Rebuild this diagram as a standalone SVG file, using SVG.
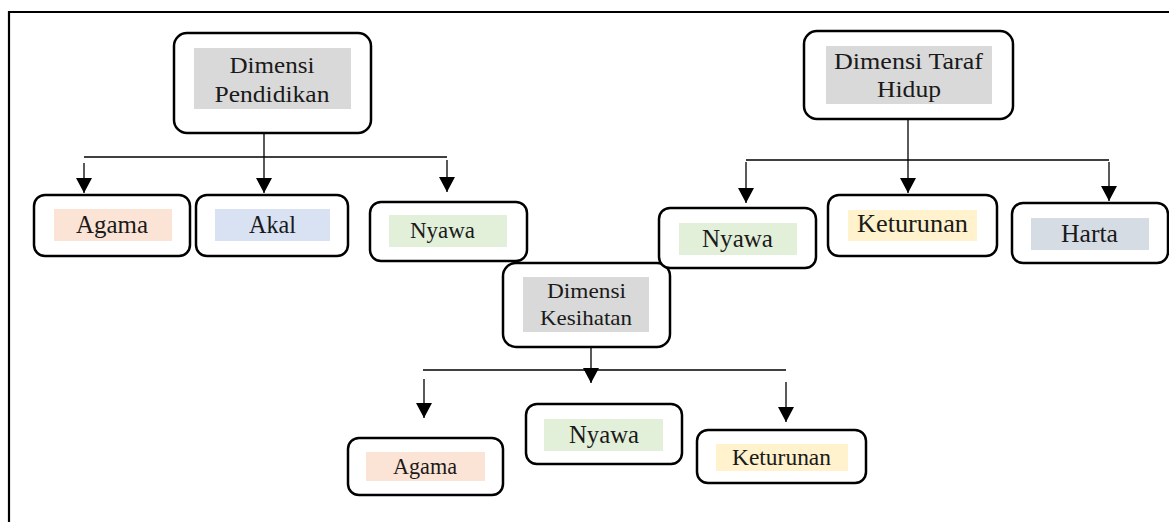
<svg xmlns="http://www.w3.org/2000/svg" width="1169" height="522" viewBox="0 0 1169 522">
<style>
.box{fill:#fff;stroke:#000;stroke-width:2.5}
.hl{stroke:none}
.t{font-family:"Liberation Serif","Times New Roman",serif;fill:#1a1a1a;text-anchor:middle}
.c{fill:none;stroke:#000;stroke-width:1.3}
.frame{fill:none;stroke:#000;stroke-width:2.2}
</style>
<defs>
<marker id="ah" markerUnits="userSpaceOnUse" markerWidth="15" markerHeight="16" viewBox="0 0 15 16" refX="15" refY="8" orient="auto">
<path d="M0,0 L15,8 L0,16 z" fill="#000"/>
</marker>
</defs>
<rect width="1169" height="522" fill="#fff"/>
<path class="frame" d="M9,522 V12 H1169"/>

<g id="connectors">
<path class="c" d="M264,133 V193" marker-end="url(#ah)"/>
<path class="c" d="M84,157 H447"/>
<path class="c" d="M84,163 V193" marker-end="url(#ah)"/>
<path class="c" d="M447,160 V192" marker-end="url(#ah)"/>
<path class="c" d="M908,119 V193" marker-end="url(#ah)"/>
<path class="c" d="M746,160 H1109"/>
<path class="c" d="M746,162 V203" marker-end="url(#ah)"/>
<path class="c" d="M1109,162 V201" marker-end="url(#ah)"/>
<path class="c" d="M591,347 V383" marker-end="url(#ah)"/>
<path class="c" d="M423,370 H786"/>
<path class="c" d="M424,379 V418" marker-end="url(#ah)"/>
<path class="c" d="M786,382 V422" marker-end="url(#ah)"/>
</g>

<g id="dimensi-pendidikan">
<rect class="box" x="174" y="33" width="197" height="100" rx="13"/>
<rect class="hl" x="194" y="48" width="157" height="61" fill="#D9D9D9"/>
<text class="t" x="272" y="73" font-size="24" textLength="85" lengthAdjust="spacingAndGlyphs">Dimensi</text>
<text class="t" x="272" y="102" font-size="24" textLength="115" lengthAdjust="spacingAndGlyphs">Pendidikan</text>
</g>

<g id="dimensi-taraf-hidup">
<rect class="box" x="804" y="31" width="209" height="88" rx="13"/>
<rect class="hl" x="826" y="46" width="166" height="58" fill="#D9D9D9"/>
<text class="t" x="908.5" y="69" font-size="24" textLength="149" lengthAdjust="spacingAndGlyphs">Dimensi Taraf</text>
<text class="t" x="909" y="97" font-size="24" textLength="64" lengthAdjust="spacingAndGlyphs">Hidup</text>
</g>

<g id="dimensi-kesihatan">
<rect class="box" x="503" y="263" width="167" height="84" rx="13"/>
<rect class="hl" x="523" y="277" width="126" height="55" fill="#D9D9D9"/>
<text class="t" x="586.5" y="298" font-size="22" textLength="79" lengthAdjust="spacingAndGlyphs">Dimensi</text>
<text class="t" x="586" y="325" font-size="22" textLength="92" lengthAdjust="spacingAndGlyphs">Kesihatan</text>
</g>

<g id="agama-1">
<rect class="box" x="34" y="195" width="156" height="61" rx="11"/>
<rect class="hl" x="54" y="209" width="118" height="32" fill="#FBE4D5"/>
<text class="t" x="112" y="233" font-size="25" textLength="72" lengthAdjust="spacingAndGlyphs">Agama</text>
</g>

<g id="akal">
<rect class="box" x="196" y="195" width="152" height="61" rx="11"/>
<rect class="hl" x="215" y="209" width="115" height="32" fill="#D9E2F3"/>
<text class="t" x="272.5" y="233" font-size="25" textLength="47" lengthAdjust="spacingAndGlyphs">Akal</text>
</g>

<g id="nyawa-1">
<rect class="box" x="370" y="202" width="157" height="59" rx="11"/>
<rect class="hl" x="389" y="215" width="118" height="32" fill="#E2EFD9"/>
<text class="t" x="442.5" y="238" font-size="24" textLength="65" lengthAdjust="spacingAndGlyphs">Nyawa</text>
</g>

<g id="nyawa-2">
<rect class="box" x="659" y="208" width="157" height="60" rx="11"/>
<rect class="hl" x="679" y="223" width="118" height="32" fill="#E2EFD9"/>
<text class="t" x="737.5" y="247" font-size="25" textLength="71" lengthAdjust="spacingAndGlyphs">Nyawa</text>
</g>

<g id="keturunan-2">
<rect class="box" x="828" y="195" width="169" height="61" rx="11"/>
<rect class="hl" x="848" y="210" width="129" height="31" fill="#FFF2CC"/>
<text class="t" x="912.5" y="232" font-size="25" textLength="111" lengthAdjust="spacingAndGlyphs">Keturunan</text>
</g>

<g id="harta">
<rect class="box" x="1012" y="203" width="156" height="60" rx="11"/>
<rect class="hl" x="1031" y="218" width="118" height="32" fill="#D6DCE4"/>
<text class="t" x="1089.5" y="242" font-size="25" textLength="57" lengthAdjust="spacingAndGlyphs">Harta</text>
</g>

<g id="agama-3">
<rect class="box" x="348" y="438" width="155" height="57" rx="11"/>
<rect class="hl" x="366" y="452" width="119" height="29" fill="#FBE4D5"/>
<text class="t" x="425" y="474" font-size="23" textLength="64" lengthAdjust="spacingAndGlyphs">Agama</text>
</g>

<g id="nyawa-3">
<rect class="box" x="526" y="404" width="156" height="60" rx="11"/>
<rect class="hl" x="544" y="419" width="119" height="32" fill="#E2EFD9"/>
<text class="t" x="604" y="443" font-size="25" textLength="70" lengthAdjust="spacingAndGlyphs">Nyawa</text>
</g>

<g id="keturunan-3">
<rect class="box" x="697" y="430" width="169" height="53" rx="11"/>
<rect class="hl" x="716" y="444" width="132" height="27" fill="#FFF2CC"/>
<text class="t" x="781.5" y="465" font-size="23" textLength="99" lengthAdjust="spacingAndGlyphs">Keturunan</text>
</g>
</svg>
